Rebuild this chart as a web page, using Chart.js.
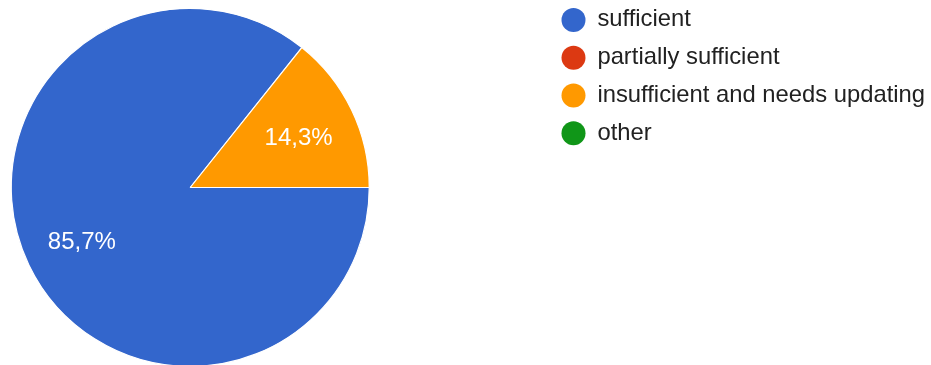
<!DOCTYPE html>
<html>
<head>
<meta charset="utf-8">
<script src="https://cdn.jsdelivr.net/npm/chart.js@4"></script>
<style>
  html, body { margin: 0; padding: 0; background: #fff; overflow: hidden; width: 931px; height: 365px; }
  /* canvas is a bit larger than the window so the pie can sit left and run off the bottom */
  #answersChart { position: absolute; left: -167px; top: -6px; }
</style>
</head>
<body>
<canvas id="answersChart" width="1098" height="387"></canvas>
<script>
const answerLabels = ["sufficient", "partially sufficient", "insufficient and needs updating", "other"];
const answerCounts = [6, 0, 1, 0];
const sliceColors = ["#3366cc", "#dc3912", "#ff9900", "#109618"];

const FONT = '"Liberation Sans", Arial, sans-serif';

// keep the legend a fixed width so the pie sits on the left like the original
const legendWidth = {
  id: "legendWidth",
  beforeInit(chart) {
    const fit = chart.legend.fit;
    chart.legend.fit = function () {
      fit.call(this);
      this.width = 383.5;
    };
  }
};

// percentage text inside each slice
const sliceLabels = {
  id: "sliceLabels",
  afterDatasetsDraw(chart) {
    const ctx = chart.ctx;
    const data = chart.data.datasets[0].data;
    const total = data.reduce((a, b) => a + b, 0);
    ctx.save();
    ctx.fillStyle = "#ffffff";
    ctx.font = "24px " + FONT;
    ctx.textAlign = "center";
    ctx.textBaseline = "middle";
    chart.getDatasetMeta(0).data.forEach((arc, i) => {
      if (!data[i]) return;
      const mid = (arc.startAngle + arc.endAngle) / 2;
      const r = arc.outerRadius * 0.672;
      const pct = (data[i] / total * 100).toFixed(1).replace(".", ",") + "%";
      ctx.fillText(pct, arc.x + Math.cos(mid) * r, arc.y + Math.sin(mid) * r + 3);
    });
    ctx.restore();
  }
};

new Chart(document.getElementById("answersChart"), {
  type: "pie",
  data: {
    labels: answerLabels,
    datasets: [{
      data: answerCounts,
      backgroundColor: sliceColors,
      borderColor: "#ffffff",
      borderWidth: 1.2,
      clip: false
    }]
  },
  options: {
    responsive: false,
    animation: false,
    rotation: 90,
    radius: 179,
    layout: { padding: 0 },
    plugins: {
      tooltip: { enabled: false },
      legend: {
        position: "right",
        align: "start",
        labels: {
          usePointStyle: true,
          pointStyle: "circle",
          pointStyleWidth: 24,
          boxHeight: 16.97,
          padding: 14,
          color: "#212121",
          font: { family: FONT, size: 23.8 },
          generateLabels(chart) {
            const items = Chart.overrides.pie.plugins.legend.labels.generateLabels(chart);
            return items.map(it => Object.assign(it, { lineWidth: 0 }));
          }
        }
      }
    }
  },
  plugins: [legendWidth, sliceLabels]
});
</script>
</body>
</html>
